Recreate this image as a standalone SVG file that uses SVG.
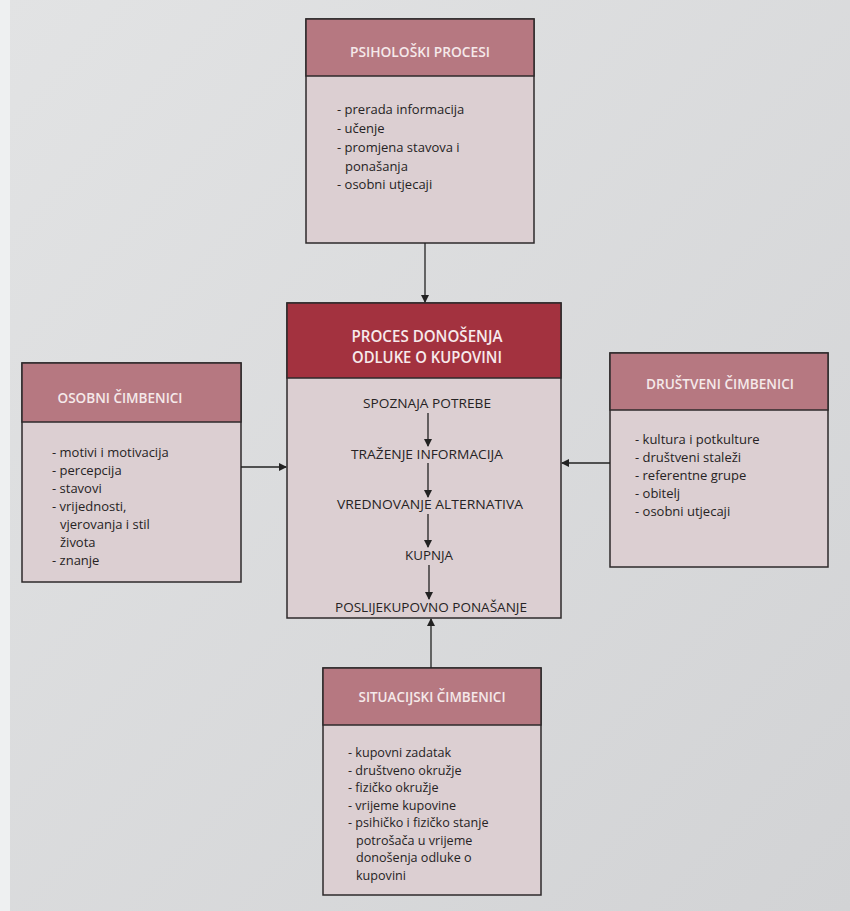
<svg xmlns="http://www.w3.org/2000/svg" width="850" height="911" viewBox="0 0 850 911">
<defs>
<linearGradient id="bg" x1="0" y1="0" x2="1" y2="1">
<stop offset="0" stop-color="#e2e3e4"/>
<stop offset="1" stop-color="#d2d3d5"/>
</linearGradient>
<marker id="ah" markerWidth="8" markerHeight="8" refX="7" refY="4" orient="auto" markerUnits="userSpaceOnUse">
<path d="M0,0 L8,4 L0,8 Z" fill="#222"/>
</marker>
</defs>
<style>
.box{fill:#dccfd2;stroke:#2e2a2b;stroke-width:1.5}
.hdr{fill:#b67881;stroke:#2e2a2b;stroke-width:1.5}
.hdrc{fill:#a3323f;stroke:#2e2a2b;stroke-width:1.5}
.ht{font-family:"Open Sans","Liberation Sans",sans-serif;font-size:14px;font-weight:600;fill:#f5e9ea;text-anchor:middle}
.hc{font-family:"Open Sans","Liberation Sans",sans-serif;font-size:17px;font-weight:600;fill:#f7eaec;text-anchor:middle}
.it{font-family:"Open Sans","Liberation Sans",sans-serif;font-size:13px;fill:#262324}
.is{font-family:"Open Sans","Liberation Sans",sans-serif;font-size:12.6px;fill:#262324}
.st{font-family:"Open Sans","Liberation Sans",sans-serif;font-size:13.5px;fill:#262324;text-anchor:middle}
.ln{stroke:#222;stroke-width:1.3;fill:none;marker-end:url(#ah)}
</style>
<rect width="850" height="911" fill="url(#bg)"/>
<rect x="0" y="0" width="10" height="911" fill="#eef0f1"/>

<g id="psiholoski">
<rect class="box" x="306" y="19" width="228" height="224"/>
<rect class="hdr" x="306" y="19" width="228" height="57"/>
<text class="ht" x="420" y="57" textLength="140" lengthAdjust="spacingAndGlyphs">PSIHOLOŠKI PROCESI</text>
<text class="it" x="337" y="114">- prerada informacija</text>
<text class="it" x="337" y="133">- učenje</text>
<text class="it" x="337" y="152">- promjena stavova i</text>
<text class="it" x="345" y="171">ponašanja</text>
<text class="it" x="337" y="189">- osobni utjecaji</text>
</g>

<g id="proces">
<rect class="box" x="287" y="303" width="274" height="315"/>
<rect class="hdrc" x="287" y="303" width="274" height="75"/>
<text class="hc" x="427" y="342" textLength="151" lengthAdjust="spacingAndGlyphs">PROCES DONOŠENJA</text>
<text class="hc" x="427" y="363" textLength="150" lengthAdjust="spacingAndGlyphs">ODLUKE O KUPOVINI</text>
<text class="st" x="427" y="408" textLength="128" lengthAdjust="spacingAndGlyphs">SPOZNAJA POTREBE</text>
<text class="st" x="427" y="459" textLength="152" lengthAdjust="spacingAndGlyphs">TRAŽENJE INFORMACIJA</text>
<text class="st" x="430" y="509" textLength="186" lengthAdjust="spacingAndGlyphs">VREDNOVANJE ALTERNATIVA</text>
<text class="st" x="429" y="560" textLength="48" lengthAdjust="spacingAndGlyphs">KUPNJA</text>
<text class="st" x="431" y="612" textLength="192" lengthAdjust="spacingAndGlyphs">POSLIJEKUPOVNO PONAŠANJE</text>
</g>

<g id="osobni">
<rect class="box" x="22" y="363" width="219" height="219"/>
<rect class="hdr" x="22" y="363" width="219" height="59"/>
<text class="ht" x="120" y="403" textLength="125" lengthAdjust="spacingAndGlyphs">OSOBNI ČIMBENICI</text>
<text class="it" x="52" y="457">- motivi i motivacija</text>
<text class="it" x="52" y="475">- percepcija</text>
<text class="it" x="52" y="493">- stavovi</text>
<text class="it" x="52" y="511">- vrijednosti,</text>
<text class="it" x="60" y="529">vjerovanja i stil</text>
<text class="it" x="60" y="547">života</text>
<text class="it" x="52" y="565">- znanje</text>
</g>

<g id="drustveni">
<rect class="box" x="610" y="353" width="218" height="214"/>
<rect class="hdr" x="610" y="353" width="218" height="57"/>
<text class="ht" x="720" y="389" textLength="148" lengthAdjust="spacingAndGlyphs">DRUŠTVENI ČIMBENICI</text>
<text class="it" x="635" y="444">- kultura i potkulture</text>
<text class="it" x="635" y="462">- društveni staleži</text>
<text class="it" x="635" y="480">- referentne grupe</text>
<text class="it" x="635" y="498">- obitelj</text>
<text class="it" x="635" y="516">- osobni utjecaji</text>
</g>

<g id="situacijski">
<rect class="box" x="323" y="668" width="218" height="227"/>
<rect class="hdr" x="323" y="668" width="218" height="57"/>
<text class="ht" x="432" y="702" textLength="147" lengthAdjust="spacingAndGlyphs">SITUACIJSKI ČIMBENICI</text>
<text class="is" x="348" y="757">- kupovni zadatak</text>
<text class="is" x="348" y="774.5">- društveno okružje</text>
<text class="is" x="348" y="792">- fizičko okružje</text>
<text class="is" x="348" y="809.5">- vrijeme kupovine</text>
<text class="is" x="348" y="827">- psihičko i fizičko stanje</text>
<text class="is" x="356" y="844.5">potrošača u vrijeme</text>
<text class="is" x="356" y="862">donošenja odluke o</text>
<text class="is" x="356" y="879.5">kupovini</text>
</g>

<g id="connectors">
<line class="ln" x1="425" y1="243" x2="425" y2="302"/>
<line class="ln" x1="241" y1="467" x2="286" y2="467"/>
<line class="ln" x1="610" y1="463" x2="562" y2="463"/>
<line class="ln" x1="431" y1="668" x2="431" y2="619"/>
<line class="ln" x1="428" y1="413" x2="428" y2="446"/>
<line class="ln" x1="428" y1="463" x2="428" y2="497"/>
<line class="ln" x1="428" y1="514" x2="428" y2="547"/>
<line class="ln" x1="429" y1="565" x2="429" y2="599"/>
</g>
</svg>
